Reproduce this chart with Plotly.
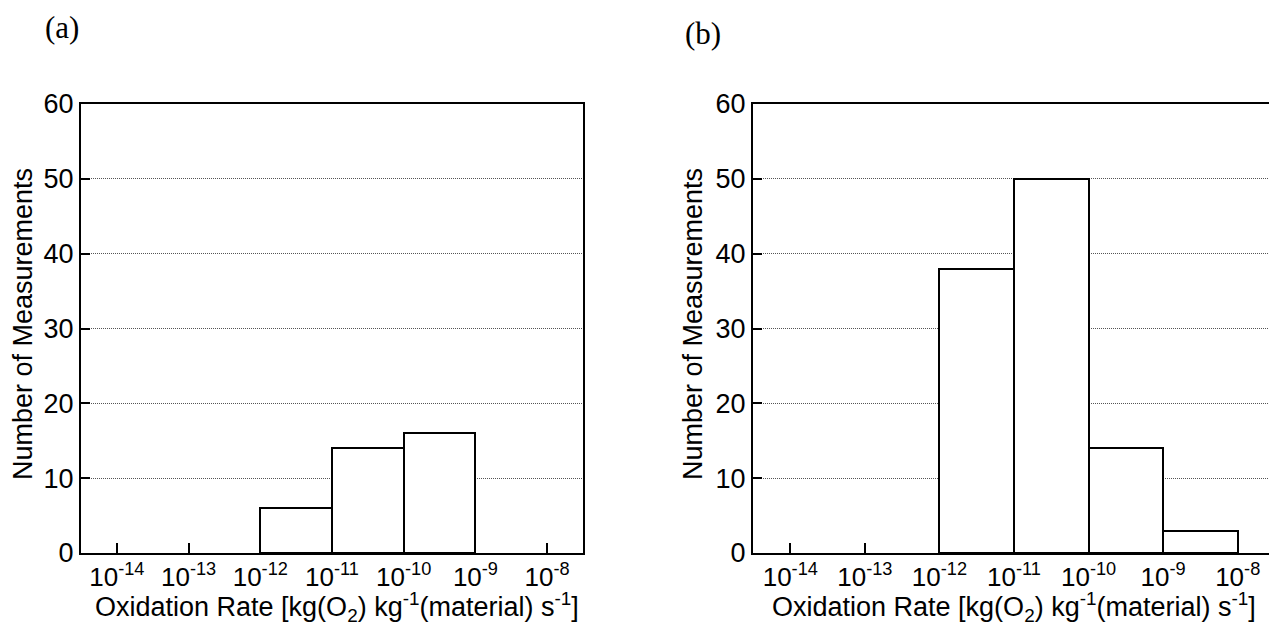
import plotly.graph_objects as go

# Data: lower-decade exponent of each bin and counts
bins_a = [-12, -11, -10]
counts_a = [6, 14, 16]
bins_b = [-12, -11, -10, -9]
counts_b = [38, 50, 14, 3]

tick_exps = [-14, -13, -12, -11, -10, -9, -8]
tick_text = [f"10<sup>{e}</sup>" for e in tick_exps]
y_ticks = [0, 10, 20, 30, 40, 50, 60]

W, H = 1277, 626
OFF = 8  # page body margin
FONT = "Liberation Sans, Arial, sans-serif"
SERIF = "Liberation Serif, Times New Roman, serif"

def px(x):
    return (x - OFF) / W

def py(y):
    return 1 - (y - OFF) / H

fig = go.Figure()

bar_style = dict(marker=dict(color="white", line=dict(color="black", width=2)),
                 width=1.0, showlegend=False, hoverinfo="skip")

fig.add_trace(go.Bar(x=[b + 0.5 for b in bins_a], y=counts_a, xaxis="x", yaxis="y", **bar_style))
fig.add_trace(go.Bar(x=[b + 0.5 for b in bins_b], y=counts_b, xaxis="x2", yaxis="y2", **bar_style))

def xaxis(domain, anchor):
    return dict(domain=domain, anchor=anchor, range=[-14.5, -7.5], automargin=False,
                tickvals=tick_exps, ticktext=tick_text, ticks="inside", ticklen=10,
                tickwidth=1.5, tickcolor="black", showline=True, linecolor="black",
                linewidth=2, mirror=True, showgrid=False, zeroline=False,
                ticklabelstandoff=0,
                tickfont=dict(family=FONT, size=26, color="black"))

def yaxis(domain, anchor):
    return dict(domain=domain, anchor=anchor, range=[0, 60], tickvals=y_ticks, automargin=False,
                ticks="inside", ticklen=9, tickwidth=1.5, tickcolor="black",
                showline=True, linecolor="black", linewidth=2, mirror=True,
                showgrid=True, gridcolor="#555555", griddash="1px,1px", gridwidth=1,
                zeroline=False, tickfont=dict(family=FONT, size=27, color="black"))

yd = [py(553), py(104)]
fig.update_layout(
    width=W, height=H, margin=dict(l=0, r=0, t=0, b=0, autoexpand=False),
    paper_bgcolor="white", plot_bgcolor="white", bargap=0,
    xaxis=xaxis([px(81), px(583)], "y"),
    yaxis=yaxis(yd, "x"),
    xaxis2=xaxis([px(753), px(1275)], "y2"),
    yaxis2=yaxis(yd, "x2"),
)

xtitle = "Oxidation Rate [kg(O<sub>2</sub>) kg<sup>-1</sup>(material) s<sup>-1</sup>]"
ann = []
for cx, ylx in [(337, 23), (1014, 693)]:
    ann.append(dict(text=xtitle, x=px(cx), y=py(607), xref="paper", yref="paper",
                    showarrow=False, xanchor="center", yanchor="middle",
                    font=dict(family=FONT, size=27, color="black")))
    ann.append(dict(text="Number of Measurements", x=px(ylx), y=py(324), xref="paper",
                    yref="paper", showarrow=False, textangle=-90, xanchor="center",
                    yanchor="middle", font=dict(family=FONT, size=27, color="black")))
ann.append(dict(text="(a)", x=px(62), y=py(28), xref="paper", yref="paper", showarrow=False,
                xanchor="center", yanchor="middle", font=dict(family=SERIF, size=31, color="black")))
ann.append(dict(text="(b)", x=px(703), y=py(33), xref="paper", yref="paper", showarrow=False,
                xanchor="center", yanchor="middle", font=dict(family=SERIF, size=31, color="black")))
fig.update_layout(annotations=ann)

fig.write_html("out.html")
